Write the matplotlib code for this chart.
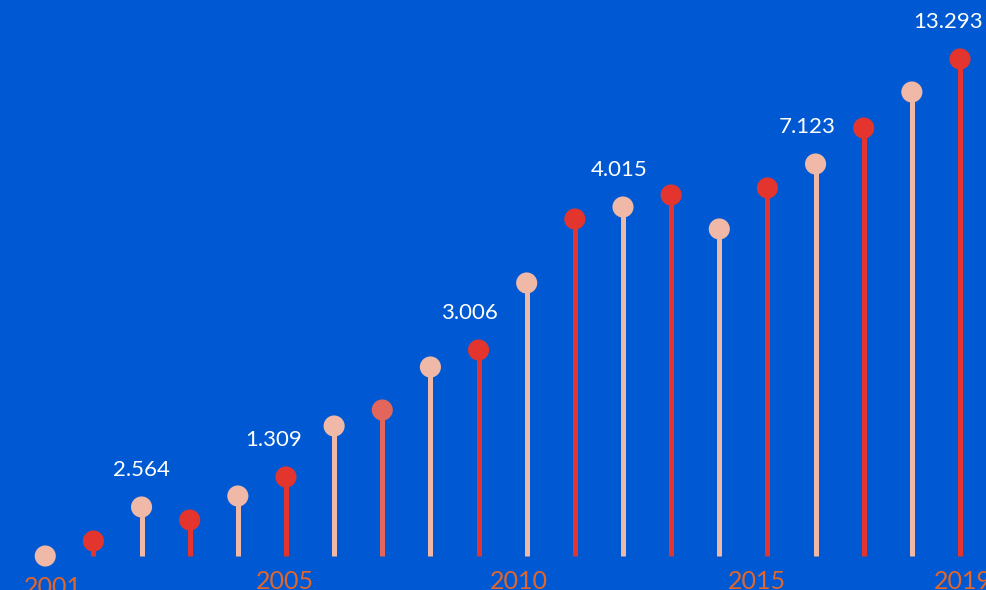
import matplotlib
matplotlib.use("Agg")
import matplotlib.pyplot as plt

# heights of the lollipops (baseline = 0)
heights = [0, 15, 49, 36, 60, 79, 130, 146, 189, 206,
           273, 337, 349, 361, 327, 368, 392, 428, 464, 497]
colors = ["#F0B8A7", "#E3352E", "#F0B8A7", "#E3352E", "#F0B8A7", "#E3352E",
          "#F0B8A7", "#E2665B", "#F0B8A7", "#E3352E", "#F0B8A7", "#E3352E",
          "#F0B8A7", "#E3352E", "#F0B8A7", "#E3352E", "#F0B8A7", "#E3352E",
          "#F0B8A7", "#E3352E"]

# value labels and the lollipop they sit over
label_idx = [2, 5, 9, 12, 16, 19]
label_txt = ["2.564", "1.309", "3.006", "4.015", "7.123", "13.293"]

# year labels along the bottom
year_pos = [0.16, 4.98, 9.84, 14.78, 19.06]
year_txt = ["2001", "2005", "2010", "2015", "2019"]

# small horizontal nudges of the value labels (in slots)
label_dx = [0.0, -0.25, -0.19, -0.09, -0.18, -0.25]

bg = "#0059D2"
plt.rcParams['font.family'] = ['Lato', 'DejaVu Sans']

fig = plt.figure(figsize=(9.86, 5.90), dpi=100, facecolor=bg)
ax = fig.add_axes([0, 0, 1, 1])
ax.set_facecolor(bg)

xs = list(range(len(heights)))
ax.vlines(xs, 0, heights, colors=colors, linewidth=3.6, zorder=2)
ax.scatter(xs, heights, s=15.2 ** 2, c=colors, zorder=3, linewidths=0)

for i, t, dx in zip(label_idx, label_txt, label_dx):
    ax.text(i + dx, heights[i] + 31, t, color="white", fontsize=16,
            ha="center", va="baseline")

for k, (p, t) in enumerate(zip(year_pos, year_txt)):
    yb = -39 if k == 0 else -33
    ax.text(p, yb, t, color="#E2662A", fontsize=18, ha="center",
            va="baseline", clip_on=False)

ax.set_xlim(-0.94, 19.54)
ax.set_ylim(-34, 556)
ax.axis("off")

fig.savefig("out.png", dpi=100, facecolor=bg)
